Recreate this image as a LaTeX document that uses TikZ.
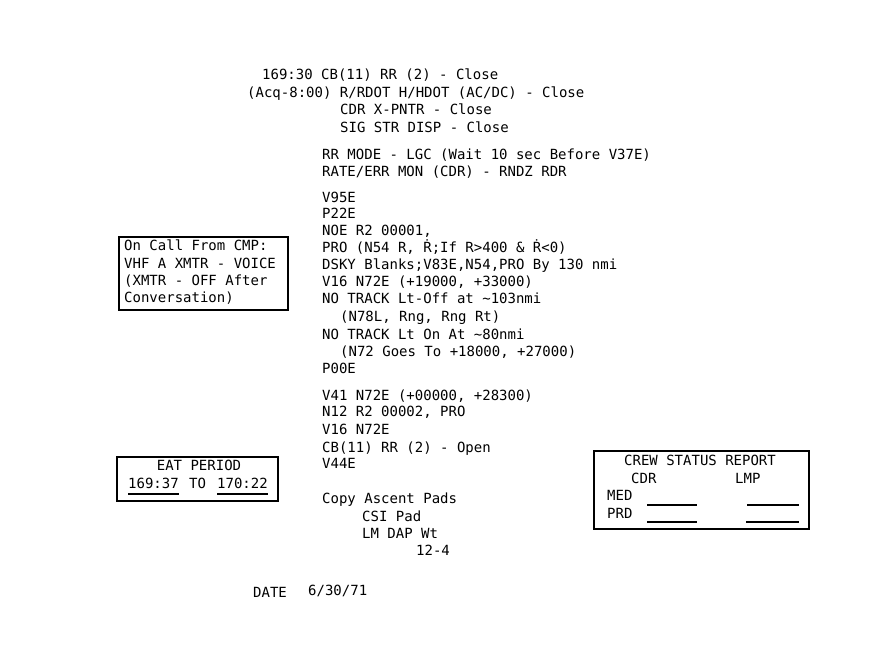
\documentclass[tikz,border=0pt]{standalone}
\usepackage{fontspec}
\newfontfamily\typer{DejaVu Sans Mono}
\tikzstyle{every node}=[font={\typer\fontsize{14pt}{17.2pt}\selectfont},inner sep=0pt]
\tikzstyle{entry}=[anchor=base west]
\tikzstyle{panel}=[draw,line width=1.8pt,anchor=north west]
\tikzstyle{blank}=[line width=1.3pt]

\begin{document}
\begin{tikzpicture}[x=1pt,y=-1pt]
  \useasboundingbox (0,0) rectangle (870,662);
  \fill[white] (0,0) rectangle (870,662);
  % main checklist column
  \foreach \x/\y/\txt [count=\i] in {
    262/79/{169:30 CB(11) RR (2) - Close},
    247/97/{(Acq-8:00) R/RDOT H/HDOT (AC/DC) - Close},
    340/114/{CDR X-PNTR - Close},
    340/132/{SIG STR DISP - Close},
    322/159/{RR MODE - LGC (Wait 10 sec Before V37E)},
    322/176/{RATE/ERR MON (CDR) - RNDZ RDR},
    322/202/{V95E},
    322/218/{P22E},
    322/235/{NOE R2 00001,},
    322/252/{PRO (N54 R, Ṙ;If R>400 \& Ṙ<0)},
    322/269/{DSKY Blanks;V83E,N54,PRO By 130 nmi},
    322/286/{V16 N72E (+19000, +33000)},
    322/303/{NO TRACK Lt-Off at \textasciitilde103nmi},
    340/321/{(N78L, Rng, Rng Rt)},
    322/339/{NO TRACK Lt On At \textasciitilde80nmi},
    340/356/{(N72 Goes To +18000, +27000)},
    322/373/{P00E},
    322/400/{V41 N72E (+00000, +28300)},
    322/416/{N12 R2 00002, PRO},
    322/434/{V16 N72E},
    322/452/{CB(11) RR (2) - Open},
    322/468/{V44E},
    322/503/{Copy Ascent Pads},
    362/521/{CSI Pad},
    362/538/{LM DAP Wt},
    416/555/{12-4}}
    \node[entry] (step\i) at (\x,\y) {\txt};
  \node[entry] (date) at (253,597) {DATE};
  \node[entry] (dateval) at (308,595) {6/30/71};
  % call box
  \node[panel,minimum width=169pt,minimum height=73pt] (callbox) at (118,236) {};
  \foreach \y/\txt [count=\i] in {
    250/{On Call From CMP:},
    268/{VHF A XMTR - VOICE},
    285/{(XMTR - OFF After},
    302/{Conversation)}}
    \node[entry] (call\i) at (124,\y) {\txt};
  % eat period box
  \node[panel,minimum width=161pt,minimum height=44pt] (eatbox) at (116,456) {};
  \node[anchor=base] (eattitle) at (199,470) {EAT PERIOD};
  \node[entry] (eatfrom) at (128,488) {169:37};
  \node[entry] (eatto) at (189,488) {TO};
  \node[entry] (eatuntil) at (217,488) {170:22};
  \draw[blank] ([yshift=-6pt]eatfrom.base west) -- ([yshift=-6pt]eatfrom.base east);
  \draw[blank] ([yshift=-6pt]eatuntil.base west) -- ([yshift=-6pt]eatuntil.base east);
  % crew status box
  \node[panel,minimum width=215pt,minimum height=78pt] (crewbox) at (593,450) {};
  \node[anchor=base] (crewtitle) at (700,465) {CREW STATUS REPORT};
  \node[entry] (cdr) at (631,483) {CDR};
  \node[entry] (lmp) at (735,483) {LMP};
  \node[entry] (med) at (607,500) {MED};
  \node[entry] (prd) at (607,518) {PRD};
  \draw[blank] (647,505) -- (697,505);
  \draw[blank] (747,505) -- (799,505);
  \draw[blank] (647,522) -- (697,522);
  \draw[blank] (746,522) -- (799,522);
\end{tikzpicture}
\end{document}
